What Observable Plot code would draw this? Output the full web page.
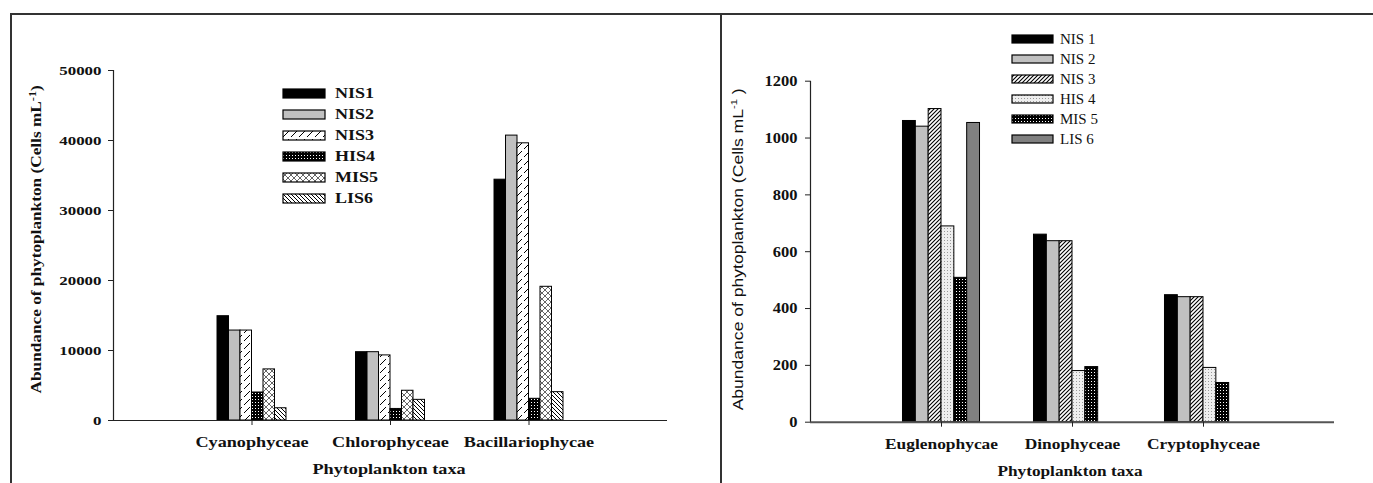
<!DOCTYPE html>
<html><head><meta charset="utf-8">
<script src="https://cdn.jsdelivr.net/npm/d3@7"></script>
<script src="https://cdn.jsdelivr.net/npm/@observablehq/plot@0.6"></script>
<style>
html,body{margin:0;padding:0;background:#fff;}
#page{position:relative;width:1373px;height:483px;overflow:hidden;font-family:"Liberation Serif",serif;color:#111;}
.ln{position:absolute;background:#333;}
.abs{position:absolute;white-space:nowrap;line-height:1;}
.panel{position:absolute;top:14px;}
</style></head><body>
<div id="page">
<svg width="0" height="0" style="position:absolute">
 <defs>
  <pattern id="pl3" patternUnits="userSpaceOnUse" width="8" height="8">
   <rect width="8" height="8" fill="#fff"/>
   <path d="M1,7 L7,1" stroke="#000" stroke-width="1"/>
  </pattern>
  <pattern id="pdotblack" patternUnits="userSpaceOnUse" width="3" height="3">
   <rect width="3" height="3" fill="#000"/>
   <rect x="1" y="1" width="1" height="1" fill="#fff"/>
  </pattern>
  <pattern id="pl5" patternUnits="userSpaceOnUse" width="6" height="6">
   <rect width="6" height="6" fill="#fff"/>
   <path d="M0,0 L6,6 M6,0 L0,6" stroke="#555" stroke-width="0.9"/>
  </pattern>
  <pattern id="pl6" patternUnits="userSpaceOnUse" width="4" height="4">
   <rect width="4" height="4" fill="#fff"/>
   <path d="M0,0 L4,4 M-1,3 L1,5 M3,-1 L5,1" stroke="#000" stroke-width="1"/>
  </pattern>
  <pattern id="pr3" patternUnits="userSpaceOnUse" width="4" height="4">
   <rect width="4" height="4" fill="#fff"/>
   <path d="M0,4 L4,0 M-1,1 L1,-1 M3,5 L5,3" stroke="#000" stroke-width="1.1"/>
  </pattern>
  <pattern id="pr4" patternUnits="userSpaceOnUse" width="3" height="3">
   <rect width="3" height="3" fill="#eee"/>
   <rect x="1" y="1" width="1" height="1" fill="#999"/>
  </pattern>
 </defs>
</svg>
</div>
<script>
// ---------- data ----------
const seriesLeft = ["NIS1", "NIS2", "NIS3", "HIS4", "MIS5", "LIS6"];
const taxaLeft = ["Cyanophyceae", "Chlorophyceae", "Bacillariophycae"];
const left_NIS1 = [14900, 9760, 34400];
const left_NIS2 = [12850, 9760, 40700];
const left_NIS3 = [12850, 9300, 39600];
const left_HIS4 = [4000, 1650, 3100];
const left_MIS5 = [7300, 4250, 19100];
const left_LIS6 = [1750, 2950, 4050];
const ticksLeft = [0, 10000, 20000, 30000, 40000, 50000];

const seriesRight = ["NIS 1", "NIS 2", "NIS 3", "HIS 4", "MIS 5", "LIS 6"];
const taxaRight = ["Euglenophycae", "Dinophyceae", "Cryptophyceae"];
const right_NIS1 = [1060, 660, 447];
const right_NIS2 = [1040, 637, 440];
const right_NIS3 = [1102, 637, 440];
const right_HIS4 = [689, 180, 191];
const right_MIS5 = [508, 194, 138];
const right_LIS6 = [1053, 0, 0];
const ticksRight = [0, 200, 400, 600, 800, 1000, 1200];

const fillsLeft = ["#000", "#c0c0c0", "url(#pl3)", "url(#pdotblack)", "url(#pl5)", "url(#pl6)"];
const fillsRight = ["#000", "#c0c0c0", "url(#pr3)", "url(#pr4)", "url(#pdotblack)", "#808080"];

const page = document.getElementById("page");

function rowsOf(values, j, bw) {
  return values.map((v, i) => ({x1: i + 1 + (j - 3) * bw, x2: i + 1 + (j - 2) * bw, v})).filter(d => d.v > 0);
}

function stretchTexts(svg, selector, sx) {
  svg.querySelectorAll(selector).forEach(t => {
    const tr = t.getAttribute("transform") || "";
    t.setAttribute("transform", tr + ` scale(${sx},1)`);
  });
}

function makePanel(opts) {
  const marks = [];
  opts.values.forEach((vals, j) => {
    marks.push(Plot.rectY(rowsOf(vals, j, opts.bw), {x1: "x1", x2: "x2", y1: 0, y2: "v", fill: opts.fills[j], stroke: "#000", strokeWidth: 1}));
  });
  marks.push(Plot.ruleY([0], {stroke: opts.axisColor, strokeWidth: opts.xAxisWidth}));
  marks.push(Plot.ruleX([0], {stroke: "#222", strokeWidth: 1.2}));
  marks.push(Plot.axisY({ticks: opts.yticks, label: null, tickSize: 5, tickPadding: opts.yPad, tickFormat: d => String(d), fontSize: opts.yFont, stroke: "#222"}));
  marks.push(Plot.axisX({ticks: [1, 2, 3], label: null, tickSize: 5, tickPadding: opts.xPad, tickFormat: d => opts.taxa[d - 1], fontSize: opts.xFont, stroke: "#222"}));
  const svg = Plot.plot({
    width: opts.width, height: 469,
    marginLeft: opts.ml, marginRight: opts.mr, marginTop: opts.mt, marginBottom: opts.mb,
    x: {domain: [0, 4], axis: null, label: null},
    y: {domain: opts.ydomain, axis: null, label: null},
    style: {fontFamily: "'Liberation Serif', serif", fontWeight: "bold", color: "#111", background: "transparent"},
    marks
  });
  stretchTexts(svg, 'g[aria-label="y-axis tick label"] text', opts.ySx);
  stretchTexts(svg, 'g[aria-label="x-axis tick label"] text', opts.xSx);
  const wrap = document.createElement("div");
  wrap.className = "panel";
  wrap.style.left = opts.left + "px";
  wrap.appendChild(svg);
  page.appendChild(wrap);
}

makePanel({
  left: 11, width: 710, ml: 102, mr: 54, mt: 56, mb: 63,
  values: [left_NIS1, left_NIS2, left_NIS3, left_HIS4, left_MIS5, left_LIS6],
  fills: fillsLeft, bw: 0.083, ydomain: [0, 50000], yticks: ticksLeft, taxa: taxaLeft,
  yPad: 7, xPad: 12, yFont: 13, xFont: 14, ySx: 1.3, xSx: 1.3, axisColor: "#222", xAxisWidth: 1.2
});
makePanel({
  left: 721, width: 652, ml: 89, mr: 39, mt: 66.7, mb: 61.3,
  values: [right_NIS1, right_NIS2, right_NIS3, right_HIS4, right_MIS5, right_LIS6],
  fills: fillsRight, bw: 0.098, ydomain: [0, 1200], yticks: ticksRight, taxa: taxaRight,
  yPad: 8, xPad: 11, yFont: 15, xFont: 15, ySx: 1.1, xSx: 1.16, axisColor: "#555", xAxisWidth: 2
});

// frame lines
function line(x, y, w, h) {
  const d = document.createElement("div");
  d.className = "ln";
  Object.assign(d.style, {left: x + "px", top: y + "px", width: w + "px", height: h + "px"});
  page.appendChild(d);
}
line(10, 13, 1363, 2);
line(10, 13, 1.5, 470);
line(720, 13, 1.5, 470);

// text helpers
function label(html, x, y, css, transform, origin) {
  const d = document.createElement("div");
  d.className = "abs";
  d.innerHTML = html;
  Object.assign(d.style, css);
  page.appendChild(d);
  d.style.left = x + "px";
  d.style.top = y + "px";
  d.style.transformOrigin = origin || "0 0";
  d.style.transform = transform;
  return d;
}

// axis titles (x)
label("Phytoplankton taxa", 389, 470, {font: "bold 14px 'Liberation Serif'"}, "translate(-50%,-50%) scaleX(1.3)", "50% 50%");
label("Phytoplankton taxa", 1070, 471, {font: "bold 15px 'Liberation Serif'"}, "translate(-50%,-50%) scaleX(1.15)", "50% 50%");

// axis titles (y), fitted to the reference length
function yTitle(html, cx, cy, font, target) {
  const d = label(html, 0, 0, {font}, "", "50% 50%");
  const w = d.offsetWidth, h = d.offsetHeight;
  d.style.left = (cx - w / 2) + "px";
  d.style.top = (cy - h / 2) + "px";
  d.style.transform = `rotate(-90deg) scaleX(${target / w})`;
}
yTitle("Abundance of phytoplankton (Cells mL<sup style='font-size:10px'>-1</sup>)", 36, 239, "bold 14px 'Liberation Serif'", 308);
yTitle("Abundance of phytoplankton (Cells mL<sup style='font-size:9px'>-1</sup> )", 737, 249, "14px 'Liberation Sans'", 322);

// legends
function legend(names, fills, x0, y0, dy, sw, sh, tx, font, sx) {
  names.forEach((n, j) => {
    const cy = y0 + j * dy;
    const s = document.createElementNS("http://www.w3.org/2000/svg", "svg");
    s.setAttribute("width", sw + 2); s.setAttribute("height", sh + 2);
    s.style.position = "absolute";
    s.style.left = (x0 - 1) + "px"; s.style.top = (cy - sh / 2 - 1) + "px";
    s.innerHTML = `<rect x="1" y="1" width="${sw}" height="${sh}" fill="${fills[j]}" stroke="#000" stroke-width="1.2"/>`;
    page.appendChild(s);
    label(n, tx, cy, {font}, `translateY(-50%) scaleX(${sx})`, "0 50%");
  });
}
legend(seriesLeft, fillsLeft, 283, 93, 21, 42, 9, 335, "bold 15px 'Liberation Serif'", 1.2);
legend(seriesRight, fillsRight, 1012, 39, 20, 41, 8, 1060, "15px 'Liberation Serif'", 1.0);
</script>
</body></html>
